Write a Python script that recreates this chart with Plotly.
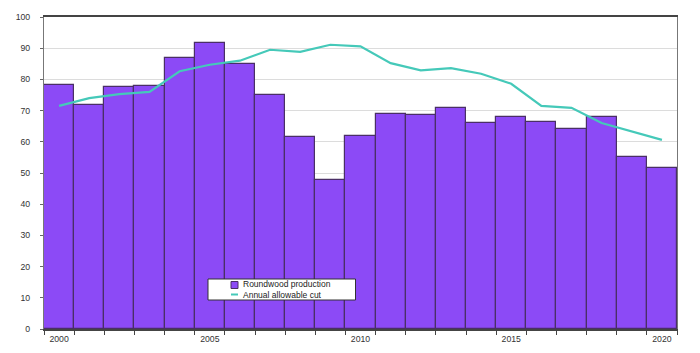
import plotly.graph_objects as go

years = list(range(2000, 2021))
roundwood = [78.2, 71.8, 77.6, 78.0, 86.8, 91.6, 84.9, 75.1, 61.7, 47.8, 61.9,
             68.9, 68.6, 70.8, 66.1, 67.9, 66.2, 64.2, 68.1, 55.0, 51.5]
allowable_cut = [71.5, 74.0, 75.3, 76.0, 82.6, 84.7, 86.0, 89.5, 88.8, 91.1, 90.6,
                 85.2, 82.9, 83.6, 81.8, 78.6, 71.5, 70.9, 66.0, 63.3, 60.6]
x_tick_labels = [2000, 2005, 2010, 2015, 2020]
y_ticks = list(range(0, 101, 10))
series_names = ["Roundwood production", "Annual allowable cut"]

BAR_COLOR = "#8C4AF6"
LINE_COLOR = "#45C9B9"

W, H = 700, 353
ML, MR, MT, MB = 44, 23, 17, 24
PW, PH = W - ML - MR, H - MT - MB

fig = go.Figure()
fig.add_trace(go.Bar(
    x=years, y=roundwood, name=series_names[0], showlegend=False,
    marker=dict(color=BAR_COLOR, line=dict(color="#4A2F66", width=1.2)),
    width=1.0,
))
fig.add_trace(go.Scatter(
    x=years, y=allowable_cut, name=series_names[1], mode="lines", showlegend=False,
    line=dict(color=LINE_COLOR, width=2.2),
))

def px2paper(x, y):
    return (x - ML) / PW, (H - MB - y) / PH

# compact legend box (as in the reference)
shapes = []
x0, y0 = px2paper(208, 279)
x1, y1 = px2paper(355.5, 300)
shapes.append(dict(type="rect", xref="paper", yref="paper", x0=x0, y0=y1, x1=x1, y1=y0,
                   fillcolor="white", line=dict(color="#333333", width=1), layer="above"))
sx0, sy0 = px2paper(231, 281.5)
sx1, sy1 = px2paper(238, 288.5)
shapes.append(dict(type="rect", xref="paper", yref="paper", x0=sx0, y0=sy1, x1=sx1, y1=sy0,
                   fillcolor=BAR_COLOR, line=dict(color="#4A2F66", width=1), layer="above"))
lx0, ly = px2paper(231, 294.5)
lx1, _ = px2paper(238, 294.5)
shapes.append(dict(type="line", xref="paper", yref="paper", x0=lx0, y0=ly, x1=lx1, y1=ly,
                   line=dict(color=LINE_COLOR, width=2), layer="above"))
tx, ty = px2paper(242, 289.6)
annotations = [dict(xref="paper", yref="paper", x=tx, y=ty, xanchor="left", yanchor="middle",
                    align="left", text="<br>".join(series_names), showarrow=False,
                    borderpad=0, font=dict(size=8.5, color="#222222"))]

fig.update_layout(
    width=W, height=H,
    margin=dict(l=ML, r=MR, t=MT, b=MB, autoexpand=False),
    paper_bgcolor="white", plot_bgcolor="white",
    font=dict(family="Liberation Sans, Arial, sans-serif", size=8.7, color="#333333"),
    bargap=0,
    showlegend=False,
    shapes=shapes, annotations=annotations,
)
fig.update_xaxes(
    range=[1999.5, 2020.5], tickvals=x_tick_labels, ticks="",
    showgrid=False, showline=True, linecolor="#444444", linewidth=1.5,
    mirror=True, zeroline=False, automargin=False, ticklabelstandoff=1,
    minor=dict(tick0=1999.5, dtick=1, ticks="outside", ticklen=4,
               tickcolor="#444444", showgrid=False),
)
fig.update_yaxes(
    range=[0, 100], tickvals=y_ticks, ticks="outside", ticklen=3,
    tickcolor="#666666", showgrid=True, gridcolor="#DCDCDC", gridwidth=1,
    showline=True, linecolor="#777777", linewidth=1.2, mirror=True,
    zeroline=False, automargin=False, ticklabelstandoff=8,
)
fig.write_html("out.html")
